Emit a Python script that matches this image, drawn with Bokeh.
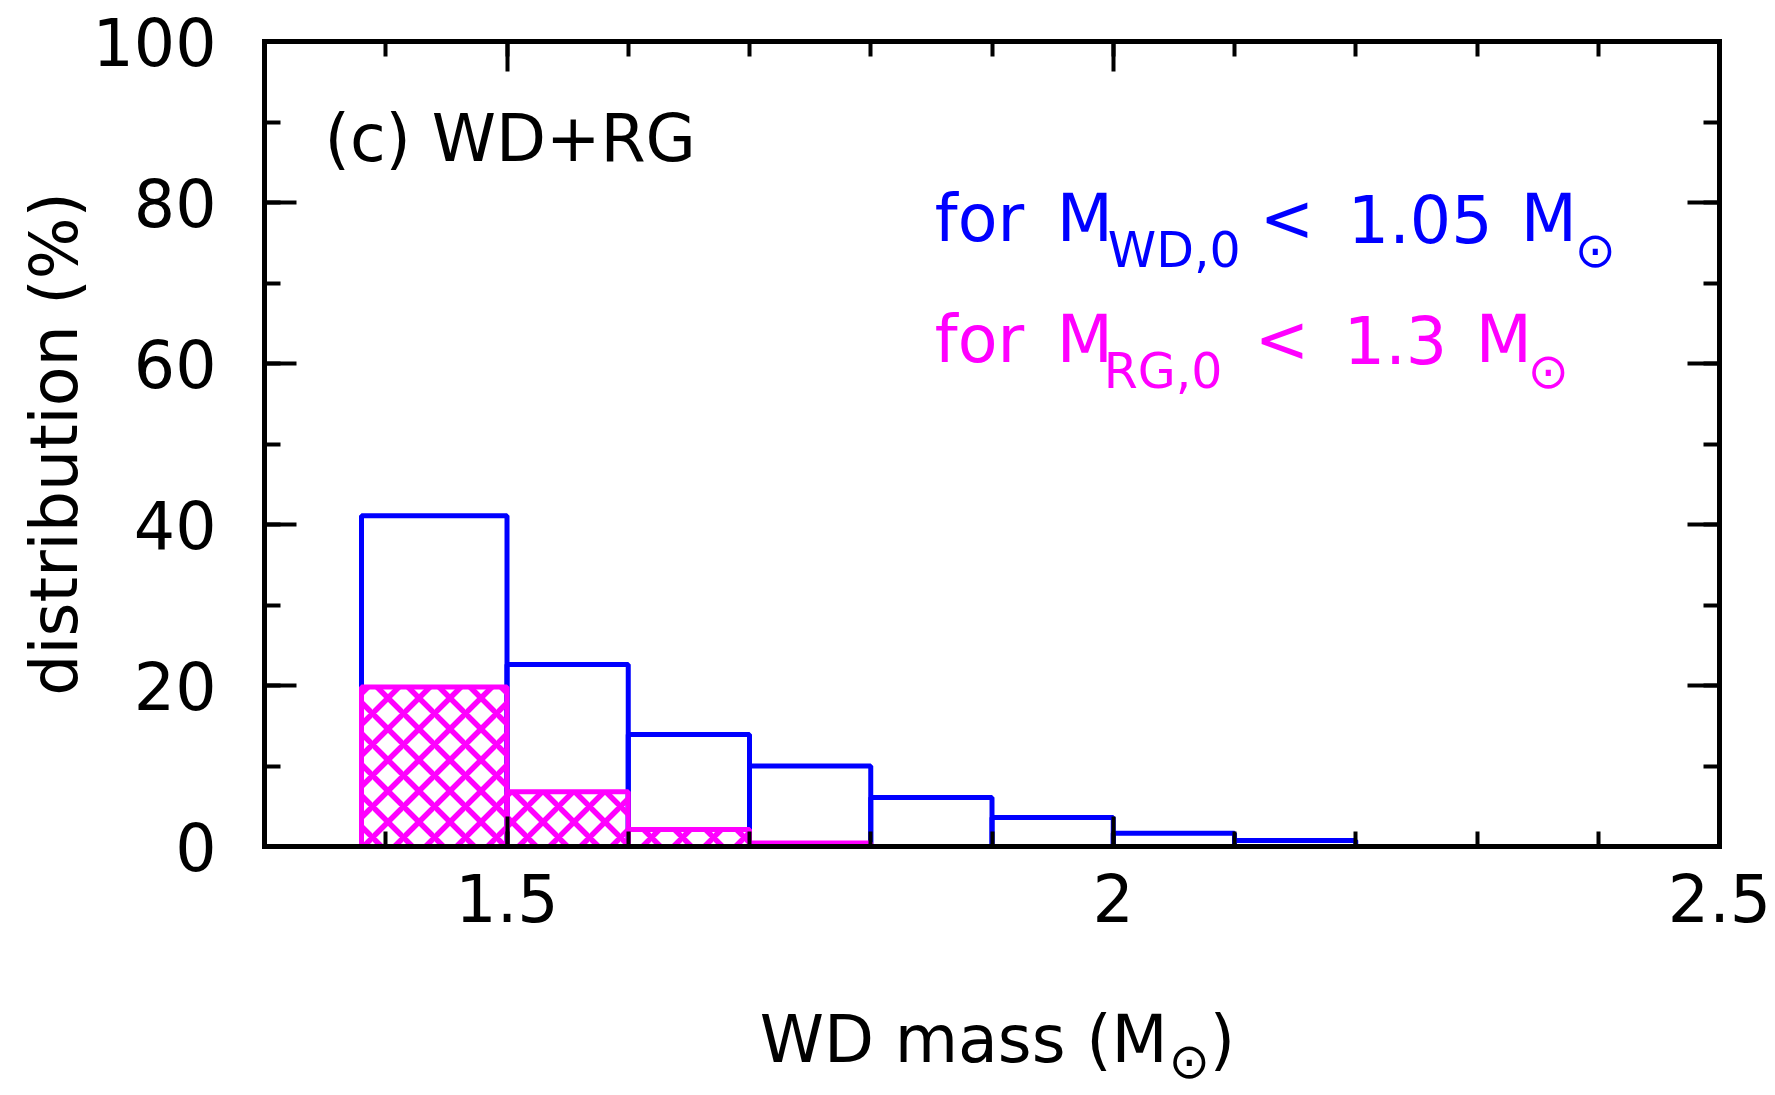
from bokeh.plotting import figure
from bokeh.layouts import column
from bokeh.models import (LinearAxis, SingleIntervalTicker, Label, Range1d,
                          CustomJSTickFormatter, ColumnDataSource)
from bokeh.embed import file_html
from bokeh.resources import INLINE

# ---------------- data ----------------
bin_left = [1.38, 1.5, 1.6, 1.7, 1.8, 1.9, 2.0, 2.1]
bin_right = [1.5, 1.6, 1.7, 1.8, 1.9, 2.0, 2.1, 2.2]
wd_dist = [41.1, 22.6, 13.9, 10.0, 6.1, 3.6, 1.65, 0.75]       # blue, M_WD,0 < 1.05
rg_left = [1.38, 1.5, 1.6, 1.7]
rg_right = [1.5, 1.6, 1.7, 1.8]
rg_dist = [19.8, 6.8, 2.1, 0.45]                                # magenta, M_RG,0 < 1.3

x_ticks_major = 0.5
y_ticks_major = 20

FONT = "DejaVu Sans"
BLUE = "#0000ff"
MAGENTA = "#ff00ff"

MAIN_H = 985
LAB_H = 1095 - MAIN_H

p = figure(width=1775, height=MAIN_H, output_backend="svg", toolbar_location=None,
           x_range=Range1d(1.3, 2.5), y_range=Range1d(0, 100),
           min_border_left=264, min_border_right=56, min_border_top=41,
           min_border_bottom=MAIN_H - 846)
p.xgrid.visible = False
p.ygrid.visible = False
p.outline_line_color = None
p.background_fill_color = "white"
p.border_fill_color = "white"

xfmt = CustomJSTickFormatter(code="return Number(tick.toFixed(2)).toString();")
empty = CustomJSTickFormatter(code="return '';")


def style_axis(ax, major_in, minor_in):
    ax.axis_line_width = 5
    ax.axis_line_color = "black"
    ax.axis_line_cap = "square"
    ax.major_tick_in = major_in
    ax.major_tick_out = 0
    ax.minor_tick_in = minor_in
    ax.minor_tick_out = 0
    ax.major_tick_line_width = 4
    ax.minor_tick_line_width = 4
    ax.major_tick_line_color = "black"
    ax.minor_tick_line_color = "black"
    ax.major_label_text_font = FONT
    ax.major_label_text_font_size = "65px"
    ax.major_label_text_color = "black"
    ax.axis_label_text_font = FONT
    ax.axis_label_text_font_size = "65px"
    ax.axis_label_text_font_style = "normal"
    ax.axis_label_text_color = "black"


xb = p.xaxis[0]
xb.ticker = SingleIntervalTicker(interval=x_ticks_major, num_minor_ticks=5)
xb.formatter = xfmt
style_axis(xb, 30, 15)
xb.major_label_standoff = 26

yl = p.yaxis[0]
yl.ticker = SingleIntervalTicker(interval=y_ticks_major, num_minor_ticks=2)
style_axis(yl, 32, 16)
yl.major_label_standoff = 48
yl.axis_label = "distribution (%)"
yl.axis_label_standoff = -3

xt = LinearAxis(ticker=SingleIntervalTicker(interval=x_ticks_major, num_minor_ticks=5),
                formatter=empty)
style_axis(xt, 30, 15)
xt.major_label_standoff = 0
p.add_layout(xt, "above")

yr = LinearAxis(ticker=SingleIntervalTicker(interval=y_ticks_major, num_minor_ticks=2),
                formatter=empty)
style_axis(yr, 32, 16)
yr.major_label_standoff = 0
p.add_layout(yr, "right")

# ---------------- bars ----------------
src_wd = ColumnDataSource(dict(left=bin_left, right=bin_right, top=wd_dist,
                               bottom=[0] * len(wd_dist)))
p.quad(left="left", right="right", top="top", bottom="bottom", source=src_wd,
       fill_color=None, line_color=BLUE, line_width=5)

src_rg = ColumnDataSource(dict(left=rg_left, right=rg_right, top=rg_dist,
                               bottom=[0] * len(rg_dist)))
p.quad(left="left", right="right", top="top", bottom="bottom", source=src_rg,
       fill_color=None, line_color=MAGENTA, line_width=5,
       hatch_pattern="diagonal_cross", hatch_color=MAGENTA, hatch_weight=5.5,
       hatch_scale=31)


# ---------------- texts ----------------
def lab(fig, text, x, y, dx=0, dy=0, size=65, color="black"):
    # dy: baseline shift in px (positive = up); the renderer puts the anchor
    # near the text middle, so compensate to put the baseline at the anchor.
    fig.add_layout(Label(x=x, y=y, x_offset=dx, y_offset=dy + 0.385 * size,
                         text=text, text_font=FONT, text_font_size=f"{size}px",
                         text_color=color, text_baseline="alphabetic",
                         text_align="left"))


lab(p, "(c) WD+RG", 1.3495, 84.9)

LX = 1.8528
BLUE_Y = 74.87
MAG_Y = 59.84
SUB = 49
SUBDY = -26

lab(p, "for", LX, BLUE_Y, color=BLUE)
lab(p, "M", LX, BLUE_Y, dx=122, color=BLUE)
lab(p, "WD,0", LX, BLUE_Y, dx=173, dy=SUBDY, size=SUB, color=BLUE)
lab(p, "<", LX, BLUE_Y, dx=325, color=BLUE)
lab(p, "1.05", LX, BLUE_Y, dx=413, color=BLUE)
lab(p, "M", LX, BLUE_Y, dx=586, color=BLUE)
lab(p, "\u2299", LX, BLUE_Y, dx=640, dy=SUBDY, size=SUB, color=BLUE)

lab(p, "for", LX, MAG_Y, color=MAGENTA)
lab(p, "M", LX, MAG_Y, dx=122, color=MAGENTA)
lab(p, "RG,0", LX, MAG_Y, dx=169, dy=SUBDY, size=SUB, color=MAGENTA)
lab(p, "<", LX, MAG_Y, dx=320, color=MAGENTA)
lab(p, "1.3", LX, MAG_Y, dx=409, color=MAGENTA)
lab(p, "M", LX, MAG_Y, dx=541, color=MAGENTA)
lab(p, "\u2299", LX, MAG_Y, dx=593, dy=SUBDY, size=SUB, color=MAGENTA)

# ---------------- x-axis title in a strip below (keeps the subscript) ----------------
# the column aligns this strip's frame with the main frame, so share its x range
q = figure(width=1775, height=LAB_H, output_backend="svg", toolbar_location=None,
           x_range=p.x_range, y_range=Range1d(0, LAB_H),
           x_axis_type=None, y_axis_type=None, min_border=0)
q.outline_line_color = None
q.background_fill_color = "white"
q.border_fill_color = "white"

XL_X = 1.7084
XL_Y = LAB_H - (1064 - MAIN_H)
lab(q, "WD mass (M", XL_X, XL_Y)
lab(q, "\u2299", XL_X, XL_Y, dx=409, dy=-16, size=SUB)
lab(q, ")", XL_X, XL_Y, dx=450)

layout = column(p, q, spacing=0)
open("out.html", "w").write(file_html(layout, INLINE))
